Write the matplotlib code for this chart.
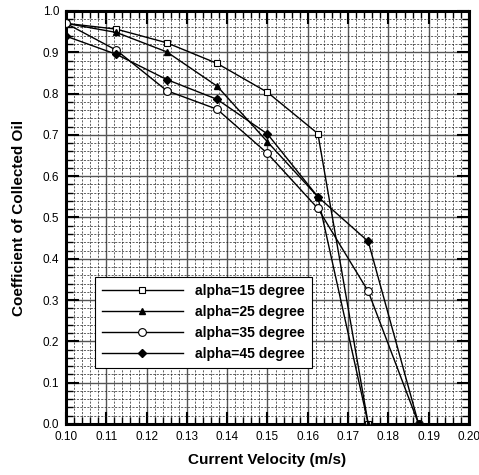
import matplotlib
matplotlib.use("Agg")
import matplotlib.pyplot as plt
from matplotlib.ticker import MultipleLocator

plt.rcParams['font.family'] = ['Liberation Sans', 'DejaVu Sans']

velocity = [0.10, 0.1125, 0.125, 0.1375, 0.15, 0.1625, 0.175, 0.1875]

alpha15 = [0.970, 0.956, 0.923, 0.873, 0.803, 0.703, 0.0]
alpha25 = [0.970, 0.948, 0.901, 0.818, 0.683, 0.550, 0.0]
alpha35 = [0.970, 0.905, 0.807, 0.762, 0.655, 0.522, 0.321, 0.0]
alpha45 = [0.939, 0.895, 0.834, 0.786, 0.702, 0.550, 0.442, 0.0]

labels = ['alpha=15 degree', 'alpha=25 degree', 'alpha=35 degree', 'alpha=45 degree']

fig = plt.figure(figsize=(4.79, 4.75), dpi=100)
ax = fig.add_axes([0.1378, 0.1074, 0.8413, 0.8695])

ax.plot(velocity[:len(alpha15)], alpha15, color='black', lw=1.0, marker='s',
        markersize=4.8, markerfacecolor='white', markeredgewidth=0.8, label=labels[0], zorder=5)
ax.plot(velocity[:len(alpha25)], alpha25, color='black', lw=1.0, marker='^',
        markersize=5.0, markerfacecolor='black', label=labels[1], zorder=5)
ax.plot(velocity[:len(alpha35)], alpha35, color='black', lw=1.0, marker='o',
        markersize=5.6, markerfacecolor='white', markeredgewidth=0.8, label=labels[2], zorder=5)
ax.plot(velocity[:len(alpha45)], alpha45, color='black', lw=1.0, marker='D',
        markersize=4.2, markerfacecolor='black', label=labels[3], zorder=5)

ax.set_xlim(0.10, 0.20)
ax.set_ylim(0.0, 1.0)
ax.xaxis.set_major_locator(MultipleLocator(0.01))
ax.xaxis.set_minor_locator(MultipleLocator(0.002))
ax.yaxis.set_major_locator(MultipleLocator(0.1))
ax.yaxis.set_minor_locator(MultipleLocator(0.02))
ax.set_xticklabels([f"{v:.2f}" for v in ax.get_xticks()])
ax.set_yticklabels([f"{v:.1f}" for v in ax.get_yticks()])

# solid gray major grid, dashed black minor grid
ax.grid(which='major', color='#555555', linestyle='-', linewidth=1.0)
ax.grid(which='minor', color='#222222', linestyle=(0, (3, 2)), linewidth=0.5)
ax.set_axisbelow(True)

ax.tick_params(which='both', direction='in', top=True, right=True, labelsize=8.5, pad=5)
ax.tick_params(which='major', length=9, width=1.5)
ax.tick_params(which='minor', length=5, width=1.0)
for s in ax.spines.values():
    s.set_linewidth(2.2)

ax.set_xlabel('Current Velocity (m/s)', fontsize=11, fontweight='bold', labelpad=7)
ax.set_ylabel('Coefficient of Collected Oil', fontsize=11, fontweight='bold', labelpad=12)

leg = ax.legend(loc='lower left', bbox_to_anchor=(0.072, 0.136), borderaxespad=0,
                fancybox=False, framealpha=1, edgecolor='black', handlelength=5.8,
                handletextpad=0.9, borderpad=0.5, labelspacing=0.5,
                prop={'weight': 'bold', 'size': 10})
leg.get_frame().set_linewidth(0.8)

fig.savefig("out.png", dpi=100)
